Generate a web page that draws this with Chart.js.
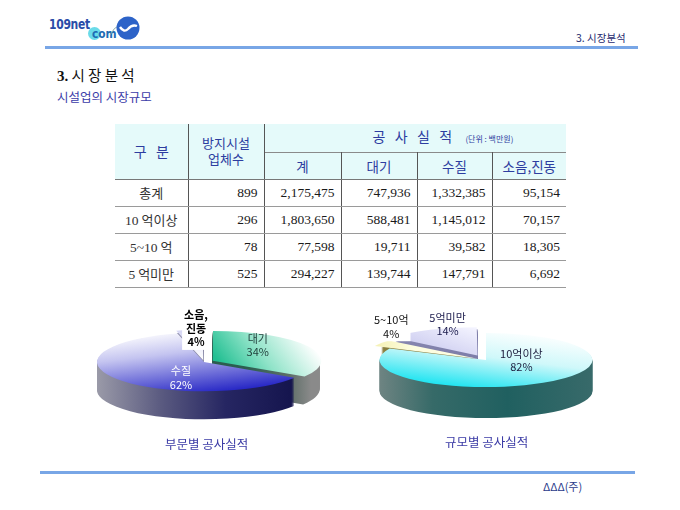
<!DOCTYPE html>
<html><head><meta charset="utf-8">
<script src="https://cdn.jsdelivr.net/npm/chart.js@4"></script>
<style>
body{margin:0;width:680px;height:510px;background:#fff;position:relative;overflow:hidden;font-family:"Noto Sans CJK KR","Noto Sans",sans-serif;}
.abs{position:absolute;white-space:nowrap;}
.ser{font-family:"Liberation Serif","DejaVu Serif",serif;}
#tbl{position:absolute;left:115px;top:124px;border-collapse:collapse;table-layout:fixed;width:451px;}
#tbl th,#tbl td{padding:0;border:0;overflow:hidden;white-space:nowrap;}
#tbl th{background:#e5fafa;color:#2d3da0;font-weight:normal;font-size:13.5px;text-align:center;line-height:16px;}
#tbl td{font-size:13px;color:#1a1a1a;border-bottom:1px solid #9a9a9a;border-right:1px solid #555;height:26px;}
#tbl td.num{text-align:right;padding-right:6px;font-family:"Liberation Serif","DejaVu Serif",serif;font-size:13.5px;}
#tbl td.lab{text-align:center;color:#333;}
#tbl td:last-child{border-right:0;}
canvas{position:absolute;}
</style></head><body>
<!-- header -->
<div class="abs" style="left:88px;top:27px;width:13px;height:13px;border-radius:50%;background:#6adbe9;"></div>
<div class="abs" style="left:49px;top:16px;font:bold 13.5px 'DejaVu Sans',sans-serif;color:#2a4ca8;letter-spacing:-0.4px;transform:scaleX(0.8);transform-origin:0 0;">109net</div>
<div class="abs" style="left:92px;top:26px;font:bold 12.5px 'DejaVu Sans',sans-serif;color:#1e6cb4;transform:scaleX(0.85);transform-origin:0 0;">com</div>
<svg class="abs" style="left:108px;top:15px" width="34" height="28"><path d="M2 20 Q6 12 12 10" stroke="#8aa" stroke-width="1" fill="none"/><circle cx="20" cy="13" r="11.5" fill="#2d63c8"/><path d="M12 12 Q16 18 20 14 Q24 9 29 11" stroke="#fff" stroke-width="2.4" fill="none"/></svg>
<div class="abs" style="left:576px;top:30px;font-size:10.5px;color:#1e2a6e;">3. 시장분석</div>
<div class="abs" style="left:45px;top:46px;width:593px;height:3px;background:#78a6e6;"></div>
<div class="abs" style="left:57px;top:64px;font-size:14.5px;color:#111;"><b class="ser" style="font-size:15px">3.</b> 시 장 분 석</div>
<div class="abs" style="left:57px;top:87px;font-size:12.5px;color:#3b3ba8;">시설업의 시장규모</div>

<table id="tbl"></table>

<canvas id="c1" width="240" height="150" style="left:84px;top:287px"></canvas>
<canvas id="c2" width="240" height="150" style="left:366px;top:285px"></canvas>

<div class="abs" style="left:165px;top:434px;font-size:12.5px;color:#3a3aa5;">부문별 공사실적</div>
<div class="abs" style="left:445px;top:432px;font-size:12.5px;color:#3a3aa5;">규모별 공사실적</div>

<div class="abs" style="left:40px;top:471px;width:595px;height:3px;background:#78a6e6;"></div>
<div class="abs" style="left:543px;top:478px;font-size:11px;color:#2a3a8a;">ΔΔΔ(주)</div>

<script>
// ---- table data ----
const rowLabels = ['총계', '10 억이상', '5~10 억', '5 억미만'];
const firms = [899, 296, 78, 525];
const totalPerf = [2175475, 1803650, 77598, 294227];
const airPerf = [747936, 588481, 19711, 139744];
const waterPerf = [1332385, 1145012, 39582, 147791];
const noisePerf = [95154, 70157, 18305, 6692];
const perfHeads = ['계', '대기', '수질', '소음,진동'];

// ---- pie data ----
const sectorLabels = ['대기', '수질', '소음,진동'];
const sectorPct = [34, 62, 4];
const sizeLabels = ['10억이상', '5~10억', '5억미만'];
const sizePct = [82, 4, 14];

// build table
(function(){
  const t = document.getElementById('tbl');
  const widths = [73, 76, 77, 76, 75, 74];
  let h = '<colgroup>' + widths.map(w => '<col style="width:' + w + 'px">').join('') + '</colgroup>';
  h += '<tr style="height:28px">' +
    '<th rowspan="2" style="border-right:1px solid #555;border-bottom:1px solid #777;font-size:14px">구&nbsp;&nbsp;&nbsp;분</th>' +
    '<th rowspan="2" style="border-right:1px solid #555;border-bottom:1px solid #777;font-size:13px">방지시설<br>업체수</th>' +
    '<th colspan="4" style="font-size:14px;text-align:left;padding-left:108px">공&nbsp;&nbsp;&nbsp;사&nbsp;&nbsp;&nbsp;실&nbsp;&nbsp;&nbsp;적 <span style="font-size:8px;margin-left:10px">(단위 : 백만원)</span></th></tr>';
  h += '<tr style="height:27px">' + perfHeads.map((p, i) =>
    '<th style="border-top:1px solid #8a8a8a;border-bottom:1px solid #777;' + (i < 3 ? 'border-right:1px solid #555;' : '') + '">' + p + '</th>').join('') + '</tr>';
  const fmt = v => v.toLocaleString('en-US');
  rowLabels.forEach((lab, i) => {
    const l = lab.replace(/([0-9~]+)/, '<span class="ser" style="font-size:13.5px">$1</span>');
    h += '<tr><td class="lab">' + l + '</td><td class="num">' + fmt(firms[i]) + '</td><td class="num">' + fmt(totalPerf[i]) +
      '</td><td class="num">' + fmt(airPerf[i]) + '</td><td class="num">' + fmt(waterPerf[i]) + '</td><td class="num">' + fmt(noisePerf[i]) + '</td></tr>';
  });
  t.innerHTML = h;
})();

// ---- 3D pie plugin ----
function grad(ctx, x0, y0, x1, y1, stops){
  const g = ctx.createLinearGradient(x0, y0, x1, y1);
  stops.forEach(s => g.addColorStop(s[0], s[1]));
  return g;
}
const pie3d = {
  id: 'pie3d',
  beforeDatasetsDraw(chart, args, o){
    const ctx = chart.ctx, arcs = chart.getDatasetMeta(0).data;
    if (!arcs.length) return;
    const cx = arcs[0].x, cy = arcs[0].y, R = arcs[0].outerRadius;
    for (let d = o.depth; d >= 1; d--) {
      arcs.forEach((a, i) => {
        ctx.save();
        ctx.translate(0, cy + d);
        ctx.scale(1, o.squash);
        ctx.translate(0, -cy);
        const mid = (a.startAngle + a.endAngle) / 2, off = (a.options.offset || 0) / 4;
        const x = cx + Math.cos(mid) * off, y = cy + Math.sin(mid) * off;
        ctx.beginPath(); ctx.moveTo(x, y); ctx.arc(x, y, R, a.startAngle, a.endAngle); ctx.closePath();
        ctx.fillStyle = grad(ctx, cx - R, 0, cx + R, 0, o.sides[i]);
        ctx.fill();
        ctx.restore();
      });
    }
    ctx.save();
    ctx.translate(0, cy); ctx.scale(1, o.squash); ctx.translate(0, -cy);
  },
  afterDatasetsDraw(chart, args, o){
    const ctx = chart.ctx, arcs = chart.getDatasetMeta(0).data;
    if (!arcs.length) return;
    ctx.restore();
    const cx = arcs[0].x, cy = arcs[0].y, R = arcs[0].outerRadius;
    const labels = chart.data.labels, vals = chart.data.datasets[0].data;
    o.labels.forEach((lab, i) => {
      const a = arcs[i], mid = (a.startAngle + a.endAngle) / 2, off = (a.options.offset || 0) / 4;
      const rr = lab.r * R + off;
      const x = cx + Math.cos(mid) * rr + (lab.dx || 0);
      const y = cy + Math.sin(mid) * rr * o.squash + (lab.dy || 0);
      let lines = lab.split ? labels[i].split(',').map((s, k, arr) => k < arr.length - 1 ? s + ',' : s) : [labels[i]];
      lines = lines.concat([vals[i] + '%']);
      ctx.font = (lab.bold ? 'bold ' : '') + '11px "Noto Sans CJK KR", sans-serif';
      ctx.textAlign = 'center'; ctx.textBaseline = 'middle';
      const lh = 13.5, h = lines.length * lh;
      if (lab.box) {
        const w = Math.max(...lines.map(s => ctx.measureText(s).width)) + 4;
        ctx.fillStyle = '#fff';
        ctx.fillRect(x - w / 2, y - h / 2 - 1, w, h + 2);
      }
      ctx.fillStyle = lab.color;
      lines.forEach((s, k) => ctx.fillText(s, x, y - h / 2 + lh * (k + 0.5)));
    });
  }
};

function topFill(stopsFn){
  return c => {
    const ca = c.chart.chartArea;
    if (!ca) return '#ccc';
    const cx = (ca.left + ca.right) / 2, cy = (ca.top + ca.bottom) / 2;
    return stopsFn(c.chart.ctx, cx, cy, c.dataset.radius, c.dataIndex);
  };
}

// left pie: 부문별
new Chart(document.getElementById('c1'), {
  type: 'pie',
  data: {
    labels: sectorLabels,
    datasets: [{
      data: sectorPct,
      radius: 107,
      offset: [40, 0, 24],
      borderWidth: 0,
      clip: false,
      backgroundColor: topFill((ctx, cx, cy, R, i) => {
        if (i === 0) return grad(ctx, cx + 5, cy, cx + R, cy - R * 0.2, [[0, '#22bf92'], [0.45, '#8fe3c8'], [1, '#ffffff']]);
        if (i === 1) return grad(ctx, cx - R * 0.6, cy - R, cx + R * 0.3, cy + R, [[0, '#ffffff'], [0.35, '#c4c4f0'], [1, '#2222c4']]);
        return grad(ctx, cx - R * 0.3, cy - R, cx, cy, [[0, '#d6d6f4'], [1, '#ffffff']]);
      })
    }]
  },
  options: {
    responsive: false, animation: false, events: [],
    layout: { padding: 0 },
    plugins: {
      legend: { display: false }, tooltip: { enabled: false },
      pie3d: {
        squash: 0.274, depth: 28,
        sides: [
          [[0, '#2a5a4c'], [0.7, '#2c5e50'], [0.9, '#5e6e68'], [1, '#8a8a8a']],
          [[0, '#9a9aa8'], [0.3, '#5a5a80'], [0.6, '#262662'], [1, '#101048']],
          [[0, '#9a9ab4'], [1, '#7a7a9a']]
        ],
        labels: [
          { r: 0.48, dy: -8.5, color: '#1e3c38' },
          { r: 0.266, dy: 11, color: '#ffffff' },
          { r: 0.54, dy: -16, color: '#000000', bold: true, box: true, split: true }
        ]
      }
    }
  },
  plugins: [pie3d]
});

// right pie: 규모별
new Chart(document.getElementById('c2'), {
  type: 'pie',
  data: {
    labels: sizeLabels,
    datasets: [{
      data: sizePct,
      radius: 106.5,
      offset: [0, 40, 80],
      borderWidth: 0,
      clip: false,
      backgroundColor: topFill((ctx, cx, cy, R, i) => {
        if (i === 0) return grad(ctx, cx + R * 0.5, cy - R, cx - R * 0.5, cy + R, [[0, '#ffffff'], [0.45, '#cff8fa'], [1, '#0ee2f0']]);
        if (i === 1) return grad(ctx, cx - R, cy, cx - R * 0.6, cy, [[0, '#f4f0b0'], [1, '#fdfde0']]);
        return grad(ctx, cx - R * 0.8, cy - R * 0.4, cx, cy - R, [[0, '#c8c8ee'], [1, '#f4f4ff']]);
      })
    }]
  },
  options: {
    responsive: false, animation: false, events: [],
    layout: { padding: 0 },
    plugins: {
      legend: { display: false }, tooltip: { enabled: false },
      pie3d: {
        squash: 0.254, depth: 31,
        sides: [
          [[0, '#6e8482'], [0.25, '#366a68'], [0.6, '#206060'], [1, '#386a6a']],
          [[0, '#8a8040'], [1, '#6a6430']],
          [[0, '#8888b0'], [1, '#7070a0']]
        ],
        labels: [
          { r: 0.62, dy: -14, color: '#202040' },
          { r: 0.96, dy: -18, color: '#111111', box: true },
          { r: 0.66, dy: -15, color: '#202050' }
        ]
      }
    }
  },
  plugins: [pie3d]
});
</script>
</body></html>
